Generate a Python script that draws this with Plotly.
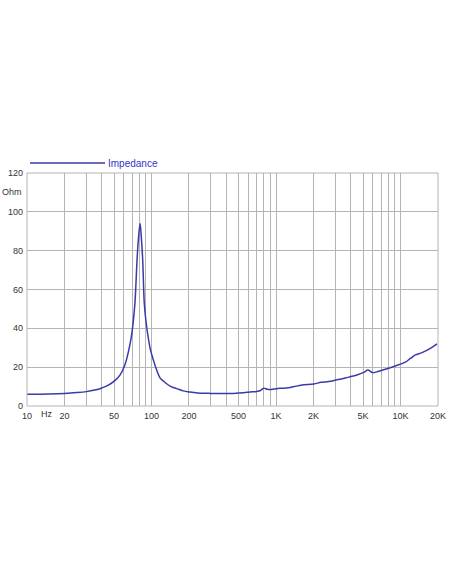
import numpy as np
import plotly.graph_objects as go

# Impedance curve (Hz, Ohm)
freq_hz = [10, 15, 20, 25, 30, 35, 40, 45, 51, 56, 61, 65, 69, 71.5, 73.6, 75, 76.5, 78.5,
           81, 83, 85, 87.5, 90.5, 94, 98, 103.5, 110, 117, 125, 141, 150, 165, 180, 204,
           245, 300, 368, 454, 550, 617, 682, 700, 750, 796, 850, 895, 960, 1018, 1077,
           1260, 1400, 1620, 2010, 2300, 2650, 3090, 3610, 4000, 4470, 5060, 5480, 5980,
           6690, 8040, 9080, 10930, 12000, 13160, 14880, 17370, 19630]
impedance = [6.0, 6.2, 6.5, 6.9, 7.4, 8.2, 9.3, 10.7, 13.2, 16.0, 21.0, 27.5, 36.0, 44.0,
             53.0, 63.0, 75.0, 86.0, 94.0, 86.0, 75.0, 53.0, 43.0, 35.5, 29.0, 23.7, 18.5,
             14.5, 12.8, 10.2, 9.5, 8.6, 7.8, 7.2, 6.6, 6.5, 6.5, 6.5, 6.8, 7.2, 7.4, 7.5,
             8.0, 9.2, 8.6, 8.5, 8.7, 8.9, 9.1, 9.4, 10.0, 10.8, 11.3, 12.2, 12.6, 13.5,
             14.4, 15.2, 16.0, 17.3, 18.5, 17.2, 17.9, 19.4, 20.6, 22.6, 24.5, 26.3, 27.5,
             29.7, 32.0]

# grid lines at every 1..9 multiple, labels only on some
grid_hz = [m * 10 ** e for e in range(1, 5) for m in range(1, 10)] + [20000]
label_map = {10: "10", 20: "20", 50: "50", 100: "100", 200: "200", 500: "500",
             1000: "1K", 2000: "2K", 5000: "5K", 10000: "10K", 20000: "20K"}
x_ticktext = [label_map.get(v, "") for v in grid_hz]
y_ticks = [0, 20, 40, 60, 80, 100, 120]

line_col = "#3a3aa8"
grid_col = "#b4b4b4"
font = dict(family="Liberation Sans, Arial, sans-serif", size=9, color="#333333")

fig = go.Figure()
fig.add_trace(go.Scatter(x=freq_hz, y=impedance, mode="lines", line_shape="spline",
                         line=dict(color=line_col, width=1.5), showlegend=False,
                         hoverinfo="skip"))

fig.update_layout(
    width=452, height=584,
    margin=dict(l=27, r=14, t=173, b=178, autoexpand=False),
    paper_bgcolor="white", plot_bgcolor="white",
    font=font,
    xaxis=dict(type="log", range=[1, np.log10(20000)], tickvals=grid_hz,
               ticktext=x_ticktext, showgrid=True, gridcolor=grid_col, gridwidth=1,
               showline=False, zeroline=False, ticks="", tickangle=0, tickfont=font,
               ticklabelstandoff=3, automargin=False),
    yaxis=dict(range=[0, 120], tickvals=y_ticks, showgrid=True, gridcolor=grid_col,
               gridwidth=1, showline=False, zeroline=False, ticks="", ticklabelstandoff=3,
               tickfont=font, automargin=False),
)

# frame lines on the data edges
fig.add_shape(type="rect", xref="paper", yref="paper", x0=0, x1=1, y0=0, y1=1,
              line=dict(color=grid_col, width=1))

fig.add_annotation(x=np.log10(14.5), y=0, xref="x", yref="paper", yanchor="middle",
                   yshift=-8, text="Hz", showarrow=False, font=font)
fig.add_annotation(x=0, y=110, xref="paper", yref="y", xanchor="right", xshift=-3,
                   text="Ohm", showarrow=False, font=font)

# legend drawn by hand: long line + label
leg_y = 1 + 10 / 233
fig.add_shape(type="line", xref="paper", yref="paper", x0=3 / 411, x1=78 / 411,
              y0=leg_y, y1=leg_y, line=dict(color=line_col, width=1.5))
fig.add_annotation(x=79 / 411, y=leg_y, xref="paper", yref="paper", xanchor="left",
                   yanchor="middle", text="Impedance", showarrow=False,
                   font=dict(family="Liberation Sans, Arial, sans-serif", size=10,
                             color="#3333cc"))

# drop the default page margin so the figure sits at the window corner
fig.write_html("out.html", config={"displayModeBar": False},
               post_script="document.body.style.margin='0';")
